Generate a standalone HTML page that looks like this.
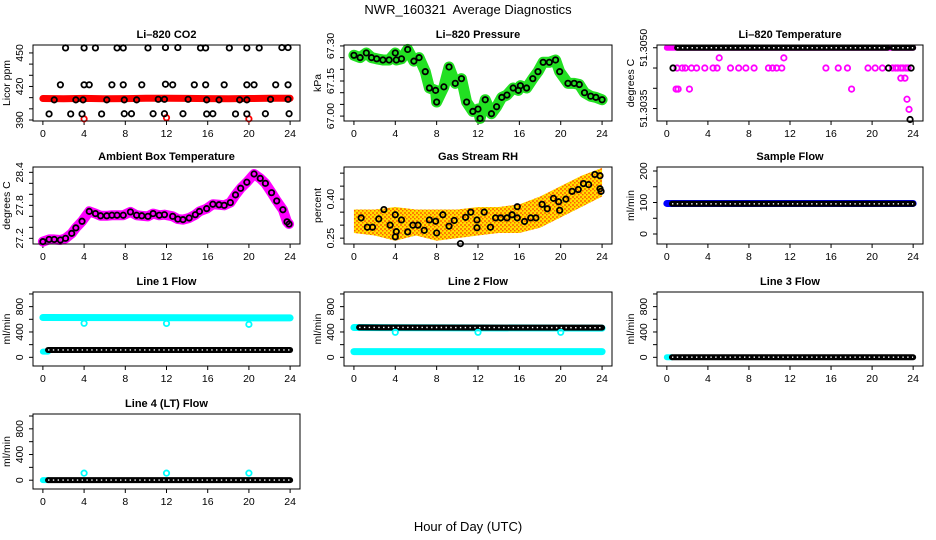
<!DOCTYPE html>
<html><head><meta charset="utf-8">
<style>
html,body{margin:0;padding:0;background:#fff;}
svg{display:block;font-family:"Liberation Sans",sans-serif;}
</style></head>
<body>
<svg id="chart" width="936" height="540" viewBox="0 0 936 540" xmlns="http://www.w3.org/2000/svg">
<text x="468" y="14" font-size="13" text-anchor="middle">NWR_160321&#160; Average Diagnostics</text>
<text x="468" y="531" font-size="13" text-anchor="middle">Hour of Day (UTC)</text>
</svg>
<script>
// ---------- data ----------
const xTickVals = [0,4,8,12,16,20,24];
// CO2
const co2BlackHours = [2.2,4.0,5.1,7.2,7.8,10.2,11.9,13.1,15.3,15.8,18.1,19.8,21.0,23.2,23.8, 1.7,4.0,4.5,6.7,7.8,9.6,11.9,12.6,14.7,15.8,17.6,19.8,20.5,22.6,23.8, 1.1,3.2,3.9,6.2,7.9,9.1,11.2,11.8,14.1,15.9,17.1,19.1,19.8,22.1,23.8, 0.6,2.7,3.8,5.7,7.9,8.6,10.7,11.8,13.6,15.9,16.5,18.7,19.8,21.6,23.9];
const co2BlackVals = [454.5,454.5,454.5,454.5,454.5,454.5,454.8,454.8,454.5,454.5,454.5,454.5,454.5,454.8,454.8, 421.5,421.5,421.5,421.5,421.5,421.5,422,421.5,421.5,421.5,421.5,421.5,421.5,421.5,421.5, 408,408,408,408,408,408,408.5,408.5,408.5,408,408,408,408,408.5,408.5, 395.4,395.4,395.4,395.4,395.6,395.6,395.6,395.6,395.6,395.4,395.6,395.4,395.4,395.6,395.6];
const co2RedHours = [0,2,4,6,8,10,12,14,16,18,20,22,24];
const co2RedVals = [409.2,409.0,409.3,409.0,409.1,409.4,409.5,409.3,409.1,409.0,409.2,409.4,409.4];
const co2RedLowHours = [4,12,20];
const co2RedLowVals = [391,392,391];
// Pressure
const presHours = [0,0.6,1.2,1.7,2.2,2.8,3.4,4.0,4.1,4.6,5.2,5.8,6.3,6.9,7.3,7.9,8.0,8.7,9.2,9.8,10.4,10.9,11.5,12.0,12.2,12.7,13.3,13.8,14.3,14.8,15.4,15.9,16.1,16.7,17.3,17.8,18.3,18.9,19.5,19.9,20.7,21.3,21.8,22.3,22.9,23.4,24];
const presVals = [67.26,67.25,67.27,67.25,67.245,67.24,67.24,67.27,67.24,67.245,67.285,67.235,67.25,67.19,67.12,67.11,67.06,67.125,67.21,67.14,67.16,67.06,67.02,67.03,66.99,67.07,67.01,67.04,67.08,67.09,67.12,67.11,67.13,67.12,67.16,67.19,67.23,67.23,67.24,67.19,67.14,67.14,67.135,67.10,67.085,67.08,67.07];
// Li-820 temperature
const tempTopRanges = [[1,21.5],[22,24]];
const tempTopVal = 51.3050;
const tempMagHours = [1.0,1.5,1.8,2.4,2.9,3.7,4.5,4.9,6.2,7.0,7.7,8.5,9.9,10.3,10.7,11.2,15.5,16.7,17.6,19.6,20.3,21.0,22.0,22.3,22.5,22.8,23.0,23.3,23.5, 5.1,11.4, 0.9,1.1,2.2,18.0, 22.8,23.2, 23.4,23.6];
const tempMagVals = [51.3045,51.3045,51.3045,51.3045,51.3045,51.3045,51.3045,51.3045,51.3045,51.3045,51.3045,51.3045,51.3045,51.3045,51.3045,51.3045,51.3045,51.3045,51.3045,51.3045,51.3045,51.3045,51.3045,51.3045,51.3045,51.3045,51.3045,51.3045,51.3045, 51.30475,51.30475, 51.30398,51.30398,51.30398,51.30398, 51.30425,51.30425, 51.30373,51.30348];
const tempBlackHours = [0.6,21.6,23.8,23.7];
const tempBlackVals = [51.3045,51.3045,51.3045,51.30323];
// Ambient box temperature
const ambHours = [0,0.6,1.1,1.7,2.2,2.8,3.2,3.8,4.5,5.1,5.6,6.2,6.7,7.2,7.8,8.5,9.1,9.6,10.2,10.7,11.3,11.8,12.6,13.1,13.6,14.2,14.8,15.2,15.9,16.5,17.1,17.6,18.2,18.7,19.2,19.8,20.5,21.1,21.6,22.2,22.7,23.3,23.7,23.9];
const ambVals = [27.14,27.18,27.18,27.17,27.2,27.29,27.39,27.51,27.69,27.65,27.61,27.61,27.62,27.62,27.62,27.68,27.62,27.61,27.6,27.65,27.62,27.63,27.6,27.55,27.54,27.57,27.63,27.69,27.74,27.82,27.81,27.80,27.85,27.99,28.11,28.22,28.37,28.29,28.2,28.03,27.88,27.72,27.5,27.46];
// Gas stream RH
const rhHours = [0.7,1.3,1.8,2.4,2.9,3.5,4.0,4.0,4.1,4.6,5.2,5.7,6.2,6.8,7.3,7.9,8.0,8.6,9.2,9.7,10.3,10.8,11.3,11.9,11.9,12.6,13.2,13.7,14.2,14.8,15.3,15.8,15.8,16.5,17.1,17.6,18.2,18.7,19.3,19.8,19.9,20.5,21.1,21.7,22.2,22.7,23.3,23.8,23.8,23.9];
const rhVals = [0.328,0.292,0.292,0.324,0.36,0.30,0.34,0.255,0.275,0.32,0.274,0.30,0.30,0.28,0.32,0.315,0.27,0.34,0.296,0.318,0.229,0.33,0.35,0.32,0.29,0.35,0.292,0.328,0.328,0.328,0.34,0.371,0.328,0.314,0.328,0.328,0.38,0.363,0.403,0.39,0.357,0.40,0.43,0.437,0.46,0.456,0.495,0.49,0.44,0.43];
const rhCloudHours = [0,2,4,6,8,10,12,14,16,18,20,22,24];
const rhCloudUpper = [0.36,0.36,0.37,0.36,0.36,0.36,0.37,0.37,0.38,0.41,0.45,0.49,0.52];
const rhCloudLower = [0.27,0.26,0.24,0.26,0.24,0.25,0.26,0.27,0.27,0.29,0.33,0.37,0.41];
// Flows (hour ranges with constant values)
const sampleBlue = {hours:[0,24], vals:[97,97]};
const sampleBlack = {hours:[0.5,24], vals:[96,96]};
const l1CyanHigh = {hours:[0,24], vals:[628,622]};
const l1CyanLow = {hours:[0,0.5], vals:[90,90]};
const l1Black = {hours:[0.5,24], vals:[116,116]};
const l1DipHours = [4,12,20];
const l1DipVals = [537,535,520];
const l2CyanHigh = {hours:[0,24], vals:[470,460]};
const l2Black = {hours:[0.5,24], vals:[472,468]};
const l2CyanLow = {hours:[0,24], vals:[90,90]};
const l2DipHours = [4,12,20];
const l2DipVals = [395,395,395];
const l3Cyan = {hours:[0,0.5], vals:[2,2]};
const l3Black = {hours:[0.5,24], vals:[2,2]};
const l4Cyan = {hours:[0,0.5], vals:[2,2]};
const l4Black = {hours:[0.5,24], vals:[2,2]};
const l4DipHours = [4,12,20];
const l4DipVals = [110,110,110];

// ---------- layout ----------
const NS = 'http://www.w3.org/2000/svg';
const svg = document.getElementById('chart');
const COLS = [[33,300],[344,612],[657,923]];
const ROWS = [[45,121],[167,244],[292,366],[414,489]];
const XDOM = [-0.96,24.96];

function mk(tag, attrs, parent){
  const e = document.createElementNS(NS, tag);
  for (const k in attrs) e.setAttribute(k, attrs[k]);
  (parent||svg).appendChild(e);
  return e;
}

function makePanel(spec){
  const [x0,x1] = COLS[spec.col], [y0,y1] = ROWS[spec.row];
  const p = {x0,x1,y0,y1,dom:spec.dom};
  p.sx = h => x0 + (h - XDOM[0])/(XDOM[1]-XDOM[0])*(x1-x0);
  p.sy = v => y1 - (v - spec.dom[0])/(spec.dom[1]-spec.dom[0])*(y1-y0);
  const g = mk('g', {});
  
  
  p.g = g;
  const cx = (x0+x1)/2;
  const t = mk('text', {x:cx, y:y0-7, 'font-size':11, 'font-weight':'bold', 'text-anchor':'middle'}, g);
  t.textContent = spec.title;
  
  
  const yl = mk('text', {x:0, y:0, 'font-size':10.5, 'text-anchor':'middle', transform:`translate(${x0-23},${(y0+y1)/2}) rotate(-90)`}, g);
  yl.textContent = spec.ylab;
  
  
  xTickVals.forEach(h => {
    const xx = p.sx(h);
    mk('line', {x1:xx, x2:xx, y1:y1, y2:y1+4, stroke:'#000'}, g);
    const tl = mk('text', {x:xx, y:y1+16, 'font-size':10.5, 'text-anchor':'middle'}, g);
    tl.textContent = String(h);
    
    
  });
  spec.ticks.forEach(v => {
    const yy = p.sy(v);
    mk('line', {x1:x0-4, x2:x0, y1:yy, y2:yy, stroke:'#000'}, g);
  });
  Object.keys(spec.labels).forEach(k => {
    const yy = p.sy(parseFloat(k));
    const tl = mk('text', {x:0, y:0, 'font-size':10.5, 'text-anchor':'middle', transform:`translate(${x0-10},${yy}) rotate(-90)`}, g);
    tl.textContent = spec.labels[k];
    
    
  });
  p.boxSpec = {x:x0, y:y0, width:x1-x0, height:y1-y0};
  return p;
}
function drawBox(p){
  const b = mk('rect', Object.assign({fill:'none', stroke:'#000', 'stroke-width':1}, p.boxSpec), p.g);
  
  
}
function circles(p, hours, vals, color, name, r){
  hours.forEach((h,i) => {
    const c = mk('circle', {cx:p.sx(h), cy:p.sy(vals[i]), r:r||2.7, fill:'none', stroke:color, 'stroke-width':1.8}, p.g);
    
    
  });
}
function band(p, hours, vals, color, width, name, textured){
  const pts = hours.map((h,i)=>p.sx(h)+','+p.sy(vals[i])).join(' ');
  const l = mk('polyline', {points:pts, fill:'none', stroke:color, 'stroke-width':width, 'stroke-linejoin':'round', 'stroke-linecap':'round'}, p.g);
  
  
  if (textured){
    const t = mk('polyline', {points:pts, fill:'none', stroke:'#fff', 'stroke-width':1.4, 'stroke-dasharray':'1.4 3.4'}, p.g);
    
    
  }
}
function range(n0, n1, s){ const a=[]; for(let v=n0; v<=n1+1e-9; v+=s) a.push(+v.toFixed(6)); return a; }

// ---------- panels ----------
const pCO2 = makePanel({id:'co2', title:'Li–820 CO2', col:0, row:0, dom:[389.1,457.1], ticks:range(390,450,10), labels:{390:'390',420:'420',450:'450'}, ylab:'Licor ppm'});
band(pCO2, co2RedHours, co2RedVals, '#ff0000', 7, 'co2-red-series');
circles(pCO2, co2RedLowHours, co2RedLowVals, '#ff0000', 'co2-red-point');
circles(pCO2, co2BlackHours, co2BlackVals, '#000', 'co2-point');
drawBox(pCO2);

const pPres = makePanel({id:'pressure', title:'Li–820 Pressure', col:1, row:0, dom:[66.979,67.304], ticks:range(67.0,67.3,0.05), labels:{'67.00':'67.00','67.15':'67.15','67.30':'67.30'}, ylab:'kPa'});
band(pPres, presHours, presVals, '#22e022', 11, 'pressure-green-series');
circles(pPres, presHours, presVals, '#000', 'pressure-point');
drawBox(pPres);

const pTemp = makePanel({id:'li820-temp', title:'Li–820 Temperature', col:2, row:0, dom:[51.303193,51.305068], ticks:[51.3050,51.3045,51.3040,51.3035], labels:{'51.3050':'51.3050','51.3035':'51.3035'}, ylab:'degrees C'});
band(pTemp, [0,24], [tempTopVal,tempTopVal], '#ff00ff', 6, 'temp-magenta-series');
tempTopRanges.forEach(rg => band(pTemp, rg, [tempTopVal,tempTopVal], '#000', 6, 'temp-black-series', true));
circles(pTemp, tempMagHours, tempMagVals, '#ff00ff', 'temp-magenta-point');
circles(pTemp, tempBlackHours, tempBlackVals, '#000', 'temp-black-point');
drawBox(pTemp);

const pAmb = makePanel({id:'ambient', title:'Ambient Box Temperature', col:0, row:1, dom:[27.097,28.497], ticks:range(27.2,28.4,0.2), labels:{'27.2':'27.2','27.8':'27.8','28.4':'28.4'}, ylab:'degrees C'});
band(pAmb, ambHours, ambVals, '#ff00ff', 10, 'ambient-magenta-series');
circles(pAmb, ambHours, ambVals, '#000', 'ambient-point');
drawBox(pAmb);

const pRH = makePanel({id:'rh', title:'Gas Stream RH', col:1, row:1, dom:[0.2275,0.5236], ticks:range(0.25,0.50,0.05), labels:{'0.25':'0.25','0.40':'0.40'}, ylab:'percent'});
(function(){
  const defs = mk('defs', {});
  const pat = mk('pattern', {id:'rhpat', width:4, height:4, patternUnits:'userSpaceOnUse'}, defs);
  mk('rect', {width:4, height:4, fill:'#ffe000'}, pat);
  mk('rect', {x:0, y:0, width:2, height:2, fill:'#ff8000'}, pat);
  mk('rect', {x:2, y:2, width:1.5, height:1.5, fill:'#ff6000'}, pat);
  const up = rhCloudHours.map((h,i)=>pRH.sx(h)+','+pRH.sy(rhCloudUpper[i]));
  const lo = rhCloudHours.map((h,i)=>pRH.sx(h)+','+pRH.sy(rhCloudLower[i])).reverse();
  const poly = mk('polygon', {points:up.concat(lo).join(' '), fill:'url(#rhpat)'}, pRH.g);
  
  
})();
circles(pRH, rhHours, rhVals, '#000', 'rh-point');
drawBox(pRH);

const pSample = makePanel({id:'sample-flow', title:'Sample Flow', col:2, row:1, dom:[-31.7,212.7], ticks:range(0,200,50), labels:{0:'0',100:'100',200:'200'}, ylab:'ml/min'});
band(pSample, sampleBlue.hours, sampleBlue.vals, '#0000ff', 7, 'sample-blue-series');
band(pSample, sampleBlack.hours, sampleBlack.vals, '#000', 6, 'sample-black-series', true);
drawBox(pSample);

const flowDom = [-137,1031], flowTicks = range(0,1000,200), flowLabels = {0:'0',400:'400',800:'800'};
const pL1 = makePanel({id:'line1-flow', title:'Line 1 Flow', col:0, row:2, dom:flowDom, ticks:flowTicks, labels:flowLabels, ylab:'ml/min'});
band(pL1, l1CyanHigh.hours, l1CyanHigh.vals, '#00ffff', 7, 'line1-cyan-series');
band(pL1, l1CyanLow.hours, l1CyanLow.vals, '#00ffff', 6, 'line1-cyan-low-series');
band(pL1, l1Black.hours, l1Black.vals, '#000', 6, 'line1-black-series', true);
circles(pL1, l1DipHours, l1DipVals, '#00ffff', 'line1-cyan-point');
drawBox(pL1);

const pL2 = makePanel({id:'line2-flow', title:'Line 2 Flow', col:1, row:2, dom:flowDom, ticks:flowTicks, labels:flowLabels, ylab:'ml/min'});
band(pL2, l2CyanHigh.hours, l2CyanHigh.vals, '#00ffff', 7, 'line2-cyan-high-series');
band(pL2, l2Black.hours, l2Black.vals, '#000', 6, 'line2-black-series', true);
band(pL2, l2CyanLow.hours, l2CyanLow.vals, '#00ffff', 7, 'line2-cyan-series');
circles(pL2, l2DipHours, l2DipVals, '#00ffff', 'line2-cyan-point');
drawBox(pL2);

const pL3 = makePanel({id:'line3-flow', title:'Line 3 Flow', col:2, row:2, dom:flowDom, ticks:flowTicks, labels:flowLabels, ylab:'ml/min'});
band(pL3, l3Cyan.hours, l3Cyan.vals, '#00ffff', 6, 'line3-cyan-series');
band(pL3, l3Black.hours, l3Black.vals, '#000', 6, 'line3-black-series', true);
drawBox(pL3);

const pL4 = makePanel({id:'line4-flow', title:'Line 4 (LT) Flow', col:0, row:3, dom:flowDom, ticks:flowTicks, labels:flowLabels, ylab:'ml/min'});
band(pL4, l4Cyan.hours, l4Cyan.vals, '#00ffff', 6, 'line4-cyan-series');
band(pL4, l4Black.hours, l4Black.vals, '#000', 6, 'line4-black-series', true);
circles(pL4, l4DipHours, l4DipVals, '#00ffff', 'line4-cyan-point');
drawBox(pL4);
</script>
</body></html>
